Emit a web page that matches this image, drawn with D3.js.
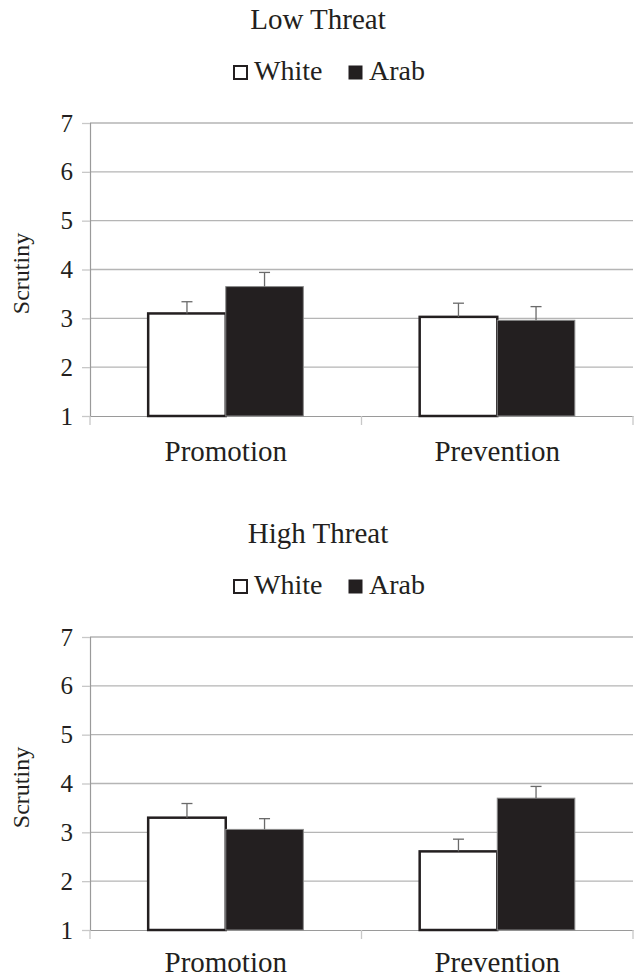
<!DOCTYPE html>
<html><head><meta charset="utf-8">
<script src="https://cdn.jsdelivr.net/npm/d3@7"></script>
<style>
html,body{margin:0;padding:0;background:#fff;}
svg{display:block;}
text{font-family:"Liberation Serif","Times New Roman",serif;fill:#231f20;}
</style></head><body>
<svg id="chart" width="636" height="979"></svg>
<script>
const categories = ["Promotion", "Prevention"];
const seriesNames = ["White", "Arab"];
const panelTitles = ["Low Threat", "High Threat"];
const yTicks = [1, 2, 3, 4, 5, 6, 7];

const lowWhite = [3.10, 3.03];
const lowArab = [3.65, 2.96];
const lowWhiteErr = [0.24, 0.28];
const lowArabErr = [0.29, 0.28];

const highWhite = [3.30, 2.61];
const highArab = [3.06, 3.70];
const highWhiteErr = [0.29, 0.25];
const highArabErr = [0.22, 0.24];

const panels = [
  {title: panelTitles[0], values: [lowWhite, lowArab], errs: [lowWhiteErr, lowArabErr], top: 0, pad: 24},
  {title: panelTitles[1], values: [highWhite, highArab], errs: [highWhiteErr, highArabErr], top: 514, pad: 21}
];

const svg = d3.select("#chart");
const W = 636;
const left = 90, right = 633;
const dark = "#231f20";

panels.forEach(p => {
  const g = svg.append("g").attr("transform", `translate(0,${p.top})`);
  const y = d3.scaleLinear().domain([1, 7]).range([416, 123]);
  const x0 = d3.scaleBand().domain(categories).range([left, right]).padding(0);
  const x1 = d3.scaleBand().domain(seriesNames).range([0, x0.bandwidth()]).paddingInner(0).paddingOuter(0.75);

  // title
  g.append("text").attr("x", W / 2).attr("y", 29).attr("text-anchor", "middle")
    .style("font-size", "29px").text(p.title);

  // legend
  const leg = g.append("g");
  const legX = [233, 348];
  seriesNames.forEach((s, i) => {
    leg.append("rect").attr("x", legX[i] + 1).attr("y", 66)
      .attr("width", 13).attr("height", 13)
      .attr("fill", i ? dark : "#fff").attr("stroke", dark).attr("stroke-width", i ? 1 : 2);
    leg.append("text").attr("x", legX[i] + 21).attr("y", 80).style("font-size", "28px").text(s);
  });

  // gridlines
  g.append("g").selectAll("line").data(yTicks.slice(1)).join("line")
    .attr("x1", left).attr("x2", right)
    .attr("y1", d => y(d)).attr("y2", d => y(d))
    .attr("stroke", "#b5b5b5").attr("stroke-width", 1.3);

  // y axis
  const ya = g.append("g").attr("transform", `translate(${left},0)`)
    .call(d3.axisLeft(y).tickValues(yTicks).tickFormat(d3.format("d")).tickSize(8).tickPadding(9));
  ya.select(".domain").attr("stroke", "#9a9a9a").attr("stroke-width", 1.2);
  ya.selectAll(".tick line").attr("stroke", "#c8c8c8").attr("stroke-width", 1.3);
  ya.selectAll(".tick text").style("font-size", "25px").style("font-family", "Liberation Serif, serif").attr("fill", dark);

  // y title
  g.append("text").attr("transform", `translate(29,${(y(1) + y(7)) / 2 + 4}) rotate(-90)`)
    .attr("text-anchor", "middle").style("font-size", "24px").text("Scrutiny");

  // x axis
  const xa = g.append("g").attr("transform", `translate(0,${y(1)})`)
    .call(d3.axisBottom(x0).tickSize(0).tickPadding(p.pad));
  xa.select(".domain").attr("stroke", "#9a9a9a").attr("stroke-width", 1.2);
  xa.selectAll(".tick text").style("font-size", "29px").style("font-family", "Liberation Serif, serif").attr("fill", dark);
  g.append("g").selectAll("line").data([left, left + x0.step(), right]).join("line")
    .attr("x1", d => d).attr("x2", d => d).attr("y1", y(1)).attr("y2", y(1) + 9)
    .attr("stroke", "#c8c8c8").attr("stroke-width", 1.3);

  // bars
  seriesNames.forEach((s, si) => {
    const grp = g.append("g");
    categories.forEach((c, ci) => {
      const v = p.values[si][ci];
      const bx = x0(c) + x1(s);
      grp.append("rect").attr("x", bx).attr("y", y(v))
        .attr("width", x1.bandwidth()).attr("height", y(1) - y(v))
        .attr("fill", si ? dark : "#fff")
        .attr("stroke", si ? "#8a8a8a" : dark)
        .attr("stroke-width", si ? 1 : 2.5);
    });
  });

  // error bars
  seriesNames.forEach((s, si) => {
    categories.forEach((c, ci) => {
      const v = p.values[si][ci], e = p.errs[si][ci];
      const cx = x0(c) + x1(s) + x1.bandwidth() / 2;
      g.append("line").attr("x1", cx).attr("x2", cx).attr("y1", y(v)).attr("y2", y(v + e))
        .attr("stroke", "#6a6a6a").attr("stroke-width", 1.3);
      g.append("line").attr("x1", cx - 5.5).attr("x2", cx + 5.5).attr("y1", y(v + e)).attr("y2", y(v + e))
        .attr("stroke", "#6a6a6a").attr("stroke-width", 1.3);
    });
  });
});
</script>
</body></html>
